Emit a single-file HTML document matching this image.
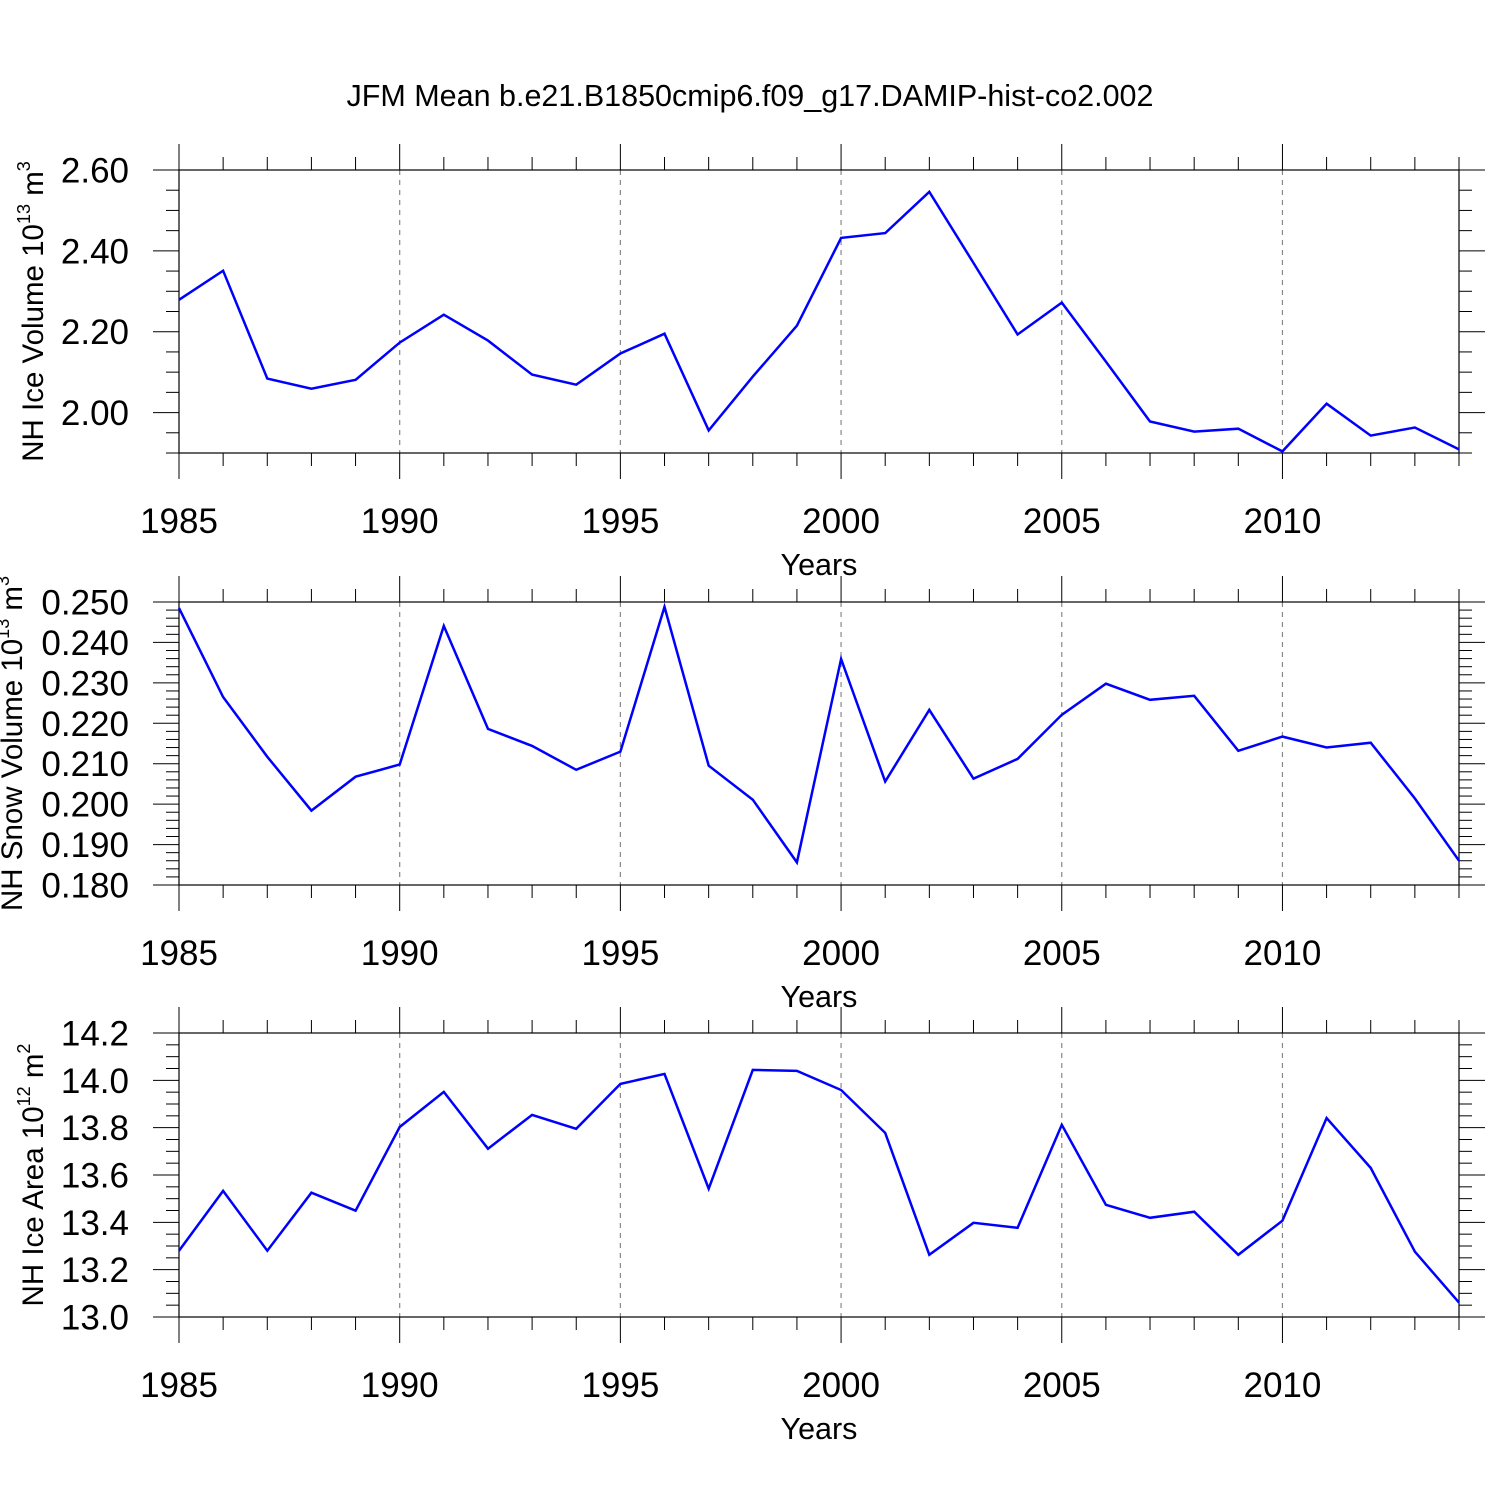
<!DOCTYPE html>
<html><head><meta charset="utf-8"><style>
html,body{margin:0;padding:0;background:#fff;}
svg{display:block;font-family:"Liberation Sans",sans-serif;}
</style></head><body>
<svg id="chart" width="1500" height="1500" viewBox="0 0 1500 1500">
<text x="750" y="106" font-size="30.5" text-anchor="middle">JFM Mean b.e21.B1850cmip6.f09_g17.DAMIP-hist-co2.002</text>
</svg>
<script>
const years = [1985,1986,1987,1988,1989,1990,1991,1992,1993,1994,1995,1996,1997,1998,1999,2000,2001,2002,2003,2004,2005,2006,2007,2008,2009,2010,2011,2012,2013,2014];
const iceVolume = [2.279,2.351,2.084,2.059,2.081,2.173,2.242,2.178,2.094,2.069,2.146,2.195,1.956,2.089,2.215,2.432,2.444,2.546,2.370,2.193,2.272,2.126,1.978,1.953,1.960,1.904,2.022,1.943,1.963,1.909];
const snowVolume = [0.2485,0.2265,0.2117,0.1984,0.2068,0.2098,0.2441,0.2186,0.2144,0.2085,0.2130,0.2488,0.2095,0.2011,0.1856,0.2359,0.2056,0.2233,0.2063,0.2112,0.2221,0.2298,0.2258,0.2268,0.2132,0.2167,0.2140,0.2152,0.2014,0.1860];
const iceArea = [13.28,13.533,13.28,13.525,13.449,13.803,13.951,13.711,13.854,13.795,13.985,14.027,13.542,14.044,14.040,13.959,13.778,13.263,13.398,13.377,13.812,13.474,13.419,13.445,13.263,13.407,13.841,13.630,13.276,13.061];
const xTickLabels = ["1985","1990","1995","2000","2005","2010"];
const iceVolTicks = ["2.00","2.20","2.40","2.60"];
const snowTicks = ["0.180","0.190","0.200","0.210","0.220","0.230","0.240","0.250"];
const areaTicks = ["13.0","13.2","13.4","13.6","13.8","14.0","14.2"];

const NS="http://www.w3.org/2000/svg";
const svg=document.getElementById('chart');
const X0=179,X1=1459;
function xs(v){return X0+(v-1985)/(2014-1985)*(X1-X0);}
function mk(tag,attrs,parent){const e=document.createElementNS(NS,tag);for(const k in attrs)e.setAttribute(k,attrs[k]);(parent||svg).appendChild(e);return e;}

const panels=[
 {name:'ice-volume',top:170,bot:453,ymin:1.90,ymax:2.60,ticks:iceVolTicks,minor:0.05,data:iceVolume,title:'NH Ice Volume 10',exp:'13',unit:' m',uexp:'3',tx:43},
 {name:'snow-volume',top:602,bot:885,ymin:0.180,ymax:0.250,ticks:snowTicks,minor:0.002,data:snowVolume,title:'NH Snow Volume 10',exp:'13',unit:' m',uexp:'3',tx:22},
 {name:'ice-area',top:1033,bot:1317,ymin:13.0,ymax:14.2,ticks:areaTicks,minor:0.05,data:iceArea,title:'NH Ice Area 10',exp:'12',unit:' m',uexp:'2',tx:43}
];
panels.forEach(p=>{
 const g=mk('g',{});
 
 
 const ys=v=>p.bot-(v-p.ymin)/(p.ymax-p.ymin)*(p.bot-p.top);
 for(let y=1990;y<=2010;y+=5){
  const l=mk('line',{x1:xs(y),x2:xs(y),y1:p.top,y2:p.bot,stroke:'#888','stroke-width':1.2,'stroke-dasharray':'5,5'},g);
  
  
 }
 years.forEach(y=>{
  const major=(y%5===0);const L=major?26:13;
  mk('line',{x1:xs(y),x2:xs(y),y1:p.top-L,y2:p.top,stroke:'#000','stroke-width':1},g);
  mk('line',{x1:xs(y),x2:xs(y),y1:p.bot,y2:p.bot+L,stroke:'#000','stroke-width':1},g);
 });
 const n=Math.round((p.ymax-p.ymin)/p.minor);
 for(let i=0;i<=n;i++){
  const v=p.ymin+i*p.minor;
  const isMajor=p.ticks.some(t=>Math.abs(parseFloat(t)-v)<1e-6);
  const L=isMajor?26:13;const y=ys(v);
  mk('line',{x1:X0-L,x2:X0,y1:y,y2:y,stroke:'#000','stroke-width':1},g);
  mk('line',{x1:X1,x2:X1+L,y1:y,y2:y,stroke:'#000','stroke-width':1},g);
 }
 mk('rect',{x:X0,y:p.top,width:X1-X0,height:p.bot-p.top,fill:'none',stroke:'#000','stroke-width':1.2},g);
 p.ticks.forEach(t=>{
  const tx=mk('text',{x:129,y:ys(parseFloat(t))+12.5,'font-size':35,'text-anchor':'end'},g);
  tx.textContent=t;
  
  
 });
 xTickLabels.forEach(t=>{
  const tx=mk('text',{x:xs(+t),y:p.bot+80,'font-size':35,'text-anchor':'middle'},g);
  tx.textContent=t;
  
  
 });
 const xt=mk('text',{x:819,y:p.bot+122,'font-size':30.5,'text-anchor':'middle'},g);
 xt.textContent='Years';
 
 
 const cy=(p.top+p.bot)/2;
 const yt=mk('text',{x:0,y:0,'font-size':29.5,'text-anchor':'middle',transform:`translate(${p.tx},${cy}) rotate(-90)`},g);
 
 
 const a=mk('tspan',{},yt);a.textContent=p.title;
 const b=mk('tspan',{dy:-13,'font-size':18},yt);b.textContent=p.exp;
 const c=mk('tspan',{dy:13},yt);c.textContent=p.unit;
 const d=mk('tspan',{dy:-13,'font-size':18},yt);d.textContent=p.uexp;
 const pts=p.data.map((v,i)=>xs(years[i]).toFixed(1)+','+ys(v).toFixed(1)).join(' ');
 const pl=mk('polyline',{points:pts,fill:'none',stroke:'#0000ff','stroke-width':2.5,'stroke-linejoin':'miter'},g);
 
 
});
</script>
</body></html>
